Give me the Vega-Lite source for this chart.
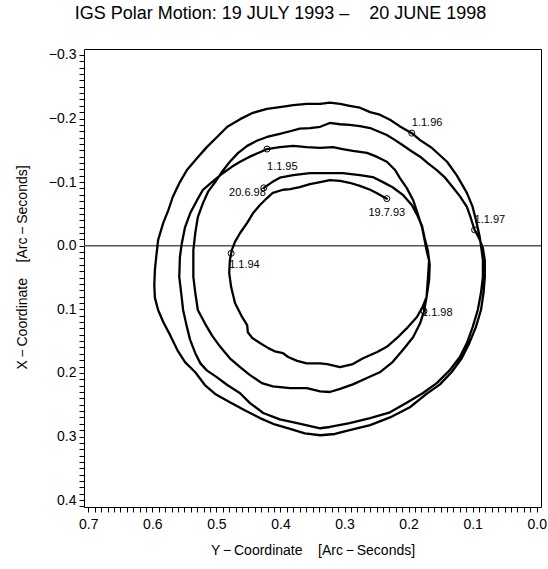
{
  "$schema": "https://vega.github.io/schema/vega-lite/v6.json",
  "width": 457,
  "height": 458,
  "autosize": "none",
  "padding": {"left": 84, "top": 49, "right": 7, "bottom": 62},
  "title": {"text": "IGS Polar Motion: 19 JULY 1993 –\u00a0\u00a0\u00a0 20 JUNE 1998", "fontSize": 18, "fontWeight": "normal", "font": "Liberation Sans", "color": "black", "anchor": "middle", "dx": -32, "offset": 25},
  "config": {
    "font": "Liberation Sans",
    "view": {"stroke": "black", "strokeWidth": 1},
    "axis": {"grid": false, "domain": false, "tickColor": "black", "labelColor": "black", "titleColor": "black", "labelFont": "Liberation Sans", "titleFont": "Liberation Sans", "titleFontWeight": "normal", "labelFlush": false, "labelOverlap": false}
  },
  "datasets": {
    "track": [
      {"t":1,"Y":0.234,"X":-0.074},{"t":2,"Y":0.250,"X":-0.083},{"t":3,"Y":0.260,"X":-0.088},{"t":4,"Y":0.276,"X":-0.094},{"t":5,"Y":0.292,"X":-0.099},
      {"t":6,"Y":0.307,"X":-0.102},{"t":7,"Y":0.323,"X":-0.103},{"t":8,"Y":0.338,"X":-0.100},{"t":9,"Y":0.354,"X":-0.097},{"t":10,"Y":0.370,"X":-0.092},
      {"t":11,"Y":0.385,"X":-0.089},{"t":12,"Y":0.396,"X":-0.088},{"t":13,"Y":0.412,"X":-0.083},{"t":14,"Y":0.421,"X":-0.075},{"t":15,"Y":0.432,"X":-0.064},
      {"t":16,"Y":0.443,"X":-0.051},{"t":17,"Y":0.452,"X":-0.036},{"t":18,"Y":0.463,"X":-0.020},{"t":19,"Y":0.471,"X":-0.006},{"t":20,"Y":0.476,"X":0.007},
      {"t":21,"Y":0.477,"X":0.012},{"t":22,"Y":0.479,"X":0.023},{"t":23,"Y":0.480,"X":0.043},{"t":24,"Y":0.477,"X":0.065},{"t":25,"Y":0.471,"X":0.090},
      {"t":26,"Y":0.460,"X":0.112},{"t":27,"Y":0.452,"X":0.125},{"t":28,"Y":0.451,"X":0.136},{"t":29,"Y":0.444,"X":0.145},{"t":30,"Y":0.432,"X":0.153},
      {"t":31,"Y":0.419,"X":0.161},{"t":32,"Y":0.409,"X":0.166},{"t":33,"Y":0.396,"X":0.169},{"t":34,"Y":0.388,"X":0.175},{"t":35,"Y":0.374,"X":0.181},
      {"t":36,"Y":0.359,"X":0.185},{"t":37,"Y":0.338,"X":0.185},{"t":38,"Y":0.327,"X":0.186},{"t":39,"Y":0.307,"X":0.191},{"t":40,"Y":0.287,"X":0.186},
      {"t":41,"Y":0.271,"X":0.177},{"t":42,"Y":0.249,"X":0.167},{"t":43,"Y":0.234,"X":0.159},{"t":44,"Y":0.218,"X":0.145},{"t":45,"Y":0.203,"X":0.130},
      {"t":46,"Y":0.187,"X":0.112},{"t":47,"Y":0.178,"X":0.096},{"t":48,"Y":0.172,"X":0.081},{"t":49,"Y":0.170,"X":0.054},{"t":50,"Y":0.168,"X":0.023},
      {"t":51,"Y":0.172,"X":0.007},{"t":52,"Y":0.175,"X":-0.009},{"t":53,"Y":0.179,"X":-0.029},{"t":54,"Y":0.186,"X":-0.051},{"t":55,"Y":0.193,"X":-0.072},
      {"t":56,"Y":0.203,"X":-0.091},{"t":57,"Y":0.214,"X":-0.107},{"t":58,"Y":0.221,"X":-0.119},{"t":59,"Y":0.234,"X":-0.132},{"t":60,"Y":0.250,"X":-0.140},
      {"t":61,"Y":0.265,"X":-0.146},{"t":62,"Y":0.287,"X":-0.149},{"t":63,"Y":0.303,"X":-0.152},{"t":64,"Y":0.318,"X":-0.155},{"t":65,"Y":0.338,"X":-0.154},
      {"t":66,"Y":0.359,"X":-0.155},{"t":67,"Y":0.380,"X":-0.157},{"t":68,"Y":0.401,"X":-0.155},{"t":69,"Y":0.421,"X":-0.152},{"t":70,"Y":0.432,"X":-0.147},
      {"t":71,"Y":0.448,"X":-0.140},{"t":72,"Y":0.463,"X":-0.132},{"t":73,"Y":0.476,"X":-0.124},{"t":74,"Y":0.490,"X":-0.114},{"t":75,"Y":0.507,"X":-0.100},
      {"t":76,"Y":0.521,"X":-0.088},{"t":77,"Y":0.530,"X":-0.072},{"t":78,"Y":0.541,"X":-0.051},{"t":79,"Y":0.549,"X":-0.029},{"t":80,"Y":0.554,"X":-0.004},
      {"t":81,"Y":0.557,"X":0.018},{"t":82,"Y":0.558,"X":0.049},{"t":83,"Y":0.555,"X":0.074},{"t":84,"Y":0.552,"X":0.101},{"t":85,"Y":0.546,"X":0.128},
      {"t":86,"Y":0.541,"X":0.148},{"t":87,"Y":0.533,"X":0.169},{"t":88,"Y":0.525,"X":0.185},{"t":89,"Y":0.515,"X":0.196},{"t":90,"Y":0.499,"X":0.207},
      {"t":91,"Y":0.483,"X":0.219},{"t":92,"Y":0.463,"X":0.232},{"t":93,"Y":0.448,"X":0.247},{"t":94,"Y":0.427,"X":0.263},{"t":95,"Y":0.401,"X":0.273},
      {"t":96,"Y":0.374,"X":0.279},{"t":97,"Y":0.338,"X":0.287},{"t":98,"Y":0.323,"X":0.285},{"t":99,"Y":0.292,"X":0.279},{"t":100,"Y":0.260,"X":0.271},
      {"t":101,"Y":0.229,"X":0.262},{"t":102,"Y":0.203,"X":0.247},{"t":103,"Y":0.178,"X":0.232},{"t":104,"Y":0.156,"X":0.216},{"t":105,"Y":0.136,"X":0.196},
      {"t":106,"Y":0.120,"X":0.175},{"t":107,"Y":0.109,"X":0.153},{"t":108,"Y":0.100,"X":0.128},{"t":109,"Y":0.092,"X":0.101},{"t":110,"Y":0.087,"X":0.074},
      {"t":111,"Y":0.084,"X":0.049},{"t":112,"Y":0.084,"X":0.023},{"t":113,"Y":0.086,"X":0.007},{"t":114,"Y":0.089,"X":-0.014},{"t":115,"Y":0.094,"X":-0.037},
      {"t":116,"Y":0.100,"X":-0.061},{"t":117,"Y":0.109,"X":-0.083},{"t":118,"Y":0.125,"X":-0.111},{"t":119,"Y":0.140,"X":-0.132},{"t":120,"Y":0.164,"X":-0.154},
      {"t":121,"Y":0.182,"X":-0.166},{"t":122,"Y":0.195,"X":-0.177},{"t":123,"Y":0.214,"X":-0.188},{"t":124,"Y":0.229,"X":-0.198},{"t":125,"Y":0.245,"X":-0.206},
      {"t":126,"Y":0.260,"X":-0.210},{"t":127,"Y":0.276,"X":-0.217},{"t":128,"Y":0.292,"X":-0.220},{"t":129,"Y":0.307,"X":-0.223},{"t":130,"Y":0.323,"X":-0.225},
      {"t":131,"Y":0.338,"X":-0.223},{"t":132,"Y":0.359,"X":-0.223},{"t":133,"Y":0.380,"X":-0.221},{"t":134,"Y":0.401,"X":-0.218},{"t":135,"Y":0.421,"X":-0.215},
      {"t":136,"Y":0.443,"X":-0.209},{"t":137,"Y":0.463,"X":-0.199},{"t":138,"Y":0.483,"X":-0.187},{"t":139,"Y":0.499,"X":-0.171},{"t":140,"Y":0.515,"X":-0.155},
      {"t":141,"Y":0.530,"X":-0.138},{"t":142,"Y":0.546,"X":-0.119},{"t":143,"Y":0.557,"X":-0.100},{"t":144,"Y":0.568,"X":-0.077},{"t":145,"Y":0.575,"X":-0.056},
      {"t":146,"Y":0.583,"X":-0.036},{"t":147,"Y":0.591,"X":-0.009},{"t":148,"Y":0.594,"X":0.018},{"t":149,"Y":0.596,"X":0.038},{"t":150,"Y":0.597,"X":0.062},
      {"t":151,"Y":0.596,"X":0.082},{"t":152,"Y":0.591,"X":0.101},{"t":153,"Y":0.583,"X":0.120},{"t":154,"Y":0.572,"X":0.141},{"t":155,"Y":0.561,"X":0.164},
      {"t":156,"Y":0.549,"X":0.183},{"t":157,"Y":0.533,"X":0.199},{"t":158,"Y":0.518,"X":0.219},{"t":159,"Y":0.502,"X":0.233},{"t":160,"Y":0.479,"X":0.246},
      {"t":161,"Y":0.455,"X":0.259},{"t":162,"Y":0.432,"X":0.271},{"t":163,"Y":0.409,"X":0.281},{"t":164,"Y":0.385,"X":0.288},{"t":165,"Y":0.362,"X":0.295},
      {"t":166,"Y":0.338,"X":0.298},{"t":167,"Y":0.315,"X":0.296},{"t":168,"Y":0.292,"X":0.290},{"t":169,"Y":0.260,"X":0.282},{"t":170,"Y":0.229,"X":0.270},
      {"t":171,"Y":0.198,"X":0.254},{"t":172,"Y":0.172,"X":0.233},{"t":173,"Y":0.151,"X":0.218},{"t":174,"Y":0.133,"X":0.199},{"t":175,"Y":0.117,"X":0.177},
      {"t":176,"Y":0.106,"X":0.155},{"t":177,"Y":0.095,"X":0.128},{"t":178,"Y":0.087,"X":0.101},{"t":179,"Y":0.083,"X":0.074},{"t":180,"Y":0.081,"X":0.049},
      {"t":181,"Y":0.081,"X":0.023},{"t":182,"Y":0.084,"X":0.004},{"t":183,"Y":0.090,"X":-0.012},{"t":184,"Y":0.097,"X":-0.025},{"t":185,"Y":0.103,"X":-0.044},
      {"t":186,"Y":0.109,"X":-0.061},{"t":187,"Y":0.120,"X":-0.078},{"t":188,"Y":0.131,"X":-0.092},{"t":189,"Y":0.143,"X":-0.107},{"t":190,"Y":0.156,"X":-0.119},
      {"t":191,"Y":0.170,"X":-0.130},{"t":192,"Y":0.182,"X":-0.140},{"t":193,"Y":0.196,"X":-0.149},{"t":194,"Y":0.209,"X":-0.158},{"t":195,"Y":0.221,"X":-0.166},
      {"t":196,"Y":0.234,"X":-0.174},{"t":197,"Y":0.248,"X":-0.180},{"t":198,"Y":0.260,"X":-0.185},{"t":199,"Y":0.276,"X":-0.188},{"t":200,"Y":0.292,"X":-0.190},
      {"t":201,"Y":0.307,"X":-0.191},{"t":202,"Y":0.323,"X":-0.193},{"t":203,"Y":0.338,"X":-0.187},{"t":204,"Y":0.354,"X":-0.185},{"t":205,"Y":0.370,"X":-0.184},
      {"t":206,"Y":0.385,"X":-0.180},{"t":207,"Y":0.401,"X":-0.176},{"t":208,"Y":0.421,"X":-0.171},{"t":209,"Y":0.437,"X":-0.165},{"t":210,"Y":0.452,"X":-0.157},
      {"t":211,"Y":0.466,"X":-0.146},{"t":212,"Y":0.479,"X":-0.132},{"t":213,"Y":0.490,"X":-0.118},{"t":214,"Y":0.502,"X":-0.100},{"t":215,"Y":0.513,"X":-0.085},
      {"t":216,"Y":0.521,"X":-0.067},{"t":217,"Y":0.529,"X":-0.045},{"t":218,"Y":0.533,"X":-0.020},{"t":219,"Y":0.536,"X":0.007},{"t":220,"Y":0.536,"X":0.030},
      {"t":221,"Y":0.536,"X":0.049},{"t":222,"Y":0.533,"X":0.074},{"t":223,"Y":0.529,"X":0.101},{"t":224,"Y":0.518,"X":0.122},{"t":225,"Y":0.507,"X":0.141},
      {"t":226,"Y":0.494,"X":0.159},{"t":227,"Y":0.479,"X":0.177},{"t":228,"Y":0.463,"X":0.191},{"t":229,"Y":0.448,"X":0.203},{"t":230,"Y":0.429,"X":0.216},
      {"t":231,"Y":0.412,"X":0.221},{"t":232,"Y":0.385,"X":0.224},{"t":233,"Y":0.359,"X":0.224},{"t":234,"Y":0.338,"X":0.229},{"t":235,"Y":0.323,"X":0.230},
      {"t":236,"Y":0.307,"X":0.225},{"t":237,"Y":0.287,"X":0.218},{"t":238,"Y":0.265,"X":0.208},{"t":239,"Y":0.245,"X":0.199},{"t":240,"Y":0.225,"X":0.183},
      {"t":241,"Y":0.209,"X":0.164},{"t":242,"Y":0.193,"X":0.144},{"t":243,"Y":0.182,"X":0.122},{"t":244,"Y":0.176,"X":0.103},{"t":245,"Y":0.172,"X":0.081},
      {"t":246,"Y":0.168,"X":0.054},{"t":247,"Y":0.167,"X":0.030},{"t":248,"Y":0.170,"X":0.007},{"t":249,"Y":0.175,"X":-0.012},{"t":250,"Y":0.179,"X":-0.031},
      {"t":251,"Y":0.186,"X":-0.047},{"t":252,"Y":0.195,"X":-0.064},{"t":253,"Y":0.209,"X":-0.080},{"t":254,"Y":0.225,"X":-0.092},{"t":255,"Y":0.240,"X":-0.100},
      {"t":256,"Y":0.256,"X":-0.108},{"t":257,"Y":0.276,"X":-0.111},{"t":258,"Y":0.303,"X":-0.114},{"t":259,"Y":0.327,"X":-0.114},{"t":260,"Y":0.354,"X":-0.114},
      {"t":261,"Y":0.380,"X":-0.111},{"t":262,"Y":0.401,"X":-0.107},{"t":263,"Y":0.413,"X":-0.100},{"t":264,"Y":0.426,"X":-0.091}
    ],
    "dates": [
      {"label":"19.7.93","Y":0.234,"X":-0.074},
      {"label":"1.1.94","Y":0.477,"X":0.012},
      {"label":"1.1.95","Y":0.421,"X":-0.152},
      {"label":"1.1.96","Y":0.195,"X":-0.177},
      {"label":"1.1.97","Y":0.097,"X":-0.025},
      {"label":"1.1.98","Y":0.176,"X":0.103},
      {"label":"20.6.98","Y":0.426,"X":-0.091}
    ],
    "zero": [{"X":0}]
  },
  "resolve": {"axis": {"x": "independent", "y": "independent"}},
  "layer": [
    {
      "data": {"name": "zero"},
      "mark": {"type": "rule", "stroke": "#555555", "strokeWidth": 1.5},
      "encoding": {
        "y": {"field": "X", "type": "quantitative", "scale": {"domain": [-0.3093, 0.4108], "reverse": true, "nice": false, "zero": false}, "axis": null}
      }
    },
    {
      "data": {"name": "track"},
      "mark": {"type": "line", "stroke": "black", "strokeWidth": 2.3, "strokeJoin": "round", "strokeCap": "round"},
      "encoding": {
        "x": {"field": "Y", "type": "quantitative", "scale": {"domain": [-0.0067, 0.7067], "reverse": true, "nice": false, "zero": false},
              "axis": {"orient": "bottom", "tickCount": 71,
                       "labelExpr": "abs(datum.value*10 - round(datum.value*10)) < 0.001 ? format(datum.value, '.1f') : ''",
                       "tickSize": 5,
                       "labelFontSize": 14, "labelPadding": 5, "title": "Y\u2009−\u2009Coordinate\u00a0\u00a0\u00a0\u00a0[Arc\u2009−\u2009Seconds]", "titleFontSize": 14, "titlePadding": 12}},
        "y": {"field": "X", "type": "quantitative", "scale": {"domain": [-0.3093, 0.4108], "reverse": true, "nice": false, "zero": false},
              "axis": {"orient": "left", "tickCount": 72,
                       "labelExpr": "abs(datum.value*10 - round(datum.value*10)) < 0.001 ? format(datum.value, '.1f') : ''",
                       "tickSize": 5,
                       "labelFontSize": 14, "labelPadding": 3, "title": "X\u2009−\u2009Coordinate\u00a0\u00a0\u00a0\u00a0[Arc\u2009−\u2009Seconds]", "titleFontSize": 14, "titlePadding": 19, "titleY": 218}},
        "order": {"field": "t", "type": "quantitative"}
      }
    },
    {
      "data": {"name": "dates"},
      "mark": {"type": "point", "shape": "circle", "filled": false, "stroke": "black", "strokeWidth": 1, "size": 36, "opacity": 1},
      "encoding": {
        "x": {"field": "Y", "type": "quantitative", "scale": {"domain": [-0.0067, 0.7067], "reverse": true, "nice": false, "zero": false}, "axis": null},
        "y": {"field": "X", "type": "quantitative", "scale": {"domain": [-0.3093, 0.4108], "reverse": true, "nice": false, "zero": false}, "axis": null}
      }
    },
    {
      "data": {"name": "dates"},
      "transform": [{"filter": "datum.label === '19.7.93'"}],
      "mark": {"type": "text", "align": "center", "baseline": "middle", "dy": 14, "fontSize": 11, "color": "black"},
      "encoding": {
        "x": {"field": "Y", "type": "quantitative", "scale": {"domain": [-0.0067, 0.7067], "reverse": true, "nice": false, "zero": false}, "axis": null},
        "y": {"field": "X", "type": "quantitative", "scale": {"domain": [-0.3093, 0.4108], "reverse": true, "nice": false, "zero": false}, "axis": null},
        "text": {"field": "label"}
      }
    },
    {
      "data": {"name": "dates"},
      "transform": [{"filter": "datum.label === '1.1.94'"}],
      "mark": {"type": "text", "align": "left", "baseline": "middle", "dx": -2, "dy": 12, "fontSize": 11, "color": "black"},
      "encoding": {
        "x": {"field": "Y", "type": "quantitative", "scale": {"domain": [-0.0067, 0.7067], "reverse": true, "nice": false, "zero": false}, "axis": null},
        "y": {"field": "X", "type": "quantitative", "scale": {"domain": [-0.3093, 0.4108], "reverse": true, "nice": false, "zero": false}, "axis": null},
        "text": {"field": "label"}
      }
    },
    {
      "data": {"name": "dates"},
      "transform": [{"filter": "datum.label === '1.1.95'"}],
      "mark": {"type": "text", "align": "left", "baseline": "middle", "dx": 0, "dy": 18, "fontSize": 11, "color": "black"},
      "encoding": {
        "x": {"field": "Y", "type": "quantitative", "scale": {"domain": [-0.0067, 0.7067], "reverse": true, "nice": false, "zero": false}, "axis": null},
        "y": {"field": "X", "type": "quantitative", "scale": {"domain": [-0.3093, 0.4108], "reverse": true, "nice": false, "zero": false}, "axis": null},
        "text": {"field": "label"}
      }
    },
    {
      "data": {"name": "dates"},
      "transform": [{"filter": "datum.label === '1.1.96' || datum.label === '1.1.97'"}],
      "mark": {"type": "text", "align": "left", "baseline": "middle", "dx": 0, "dy": -10, "fontSize": 11, "color": "black"},
      "encoding": {
        "x": {"field": "Y", "type": "quantitative", "scale": {"domain": [-0.0067, 0.7067], "reverse": true, "nice": false, "zero": false}, "axis": null},
        "y": {"field": "X", "type": "quantitative", "scale": {"domain": [-0.3093, 0.4108], "reverse": true, "nice": false, "zero": false}, "axis": null},
        "text": {"field": "label"}
      }
    },
    {
      "data": {"name": "dates"},
      "transform": [{"filter": "datum.label === '1.1.98'"}],
      "mark": {"type": "text", "align": "left", "baseline": "middle", "dx": -2, "dy": 2, "fontSize": 11, "color": "black"},
      "encoding": {
        "x": {"field": "Y", "type": "quantitative", "scale": {"domain": [-0.0067, 0.7067], "reverse": true, "nice": false, "zero": false}, "axis": null},
        "y": {"field": "X", "type": "quantitative", "scale": {"domain": [-0.3093, 0.4108], "reverse": true, "nice": false, "zero": false}, "axis": null},
        "text": {"field": "label"}
      }
    },
    {
      "data": {"name": "dates"},
      "transform": [{"filter": "datum.label === '20.6.98'"}],
      "mark": {"type": "text", "align": "right", "baseline": "middle", "dx": 2, "dy": 5, "fontSize": 11, "color": "black"},
      "encoding": {
        "x": {"field": "Y", "type": "quantitative", "scale": {"domain": [-0.0067, 0.7067], "reverse": true, "nice": false, "zero": false}, "axis": null},
        "y": {"field": "X", "type": "quantitative", "scale": {"domain": [-0.3093, 0.4108], "reverse": true, "nice": false, "zero": false}, "axis": null},
        "text": {"field": "label"}
      }
    }
  ]
}
